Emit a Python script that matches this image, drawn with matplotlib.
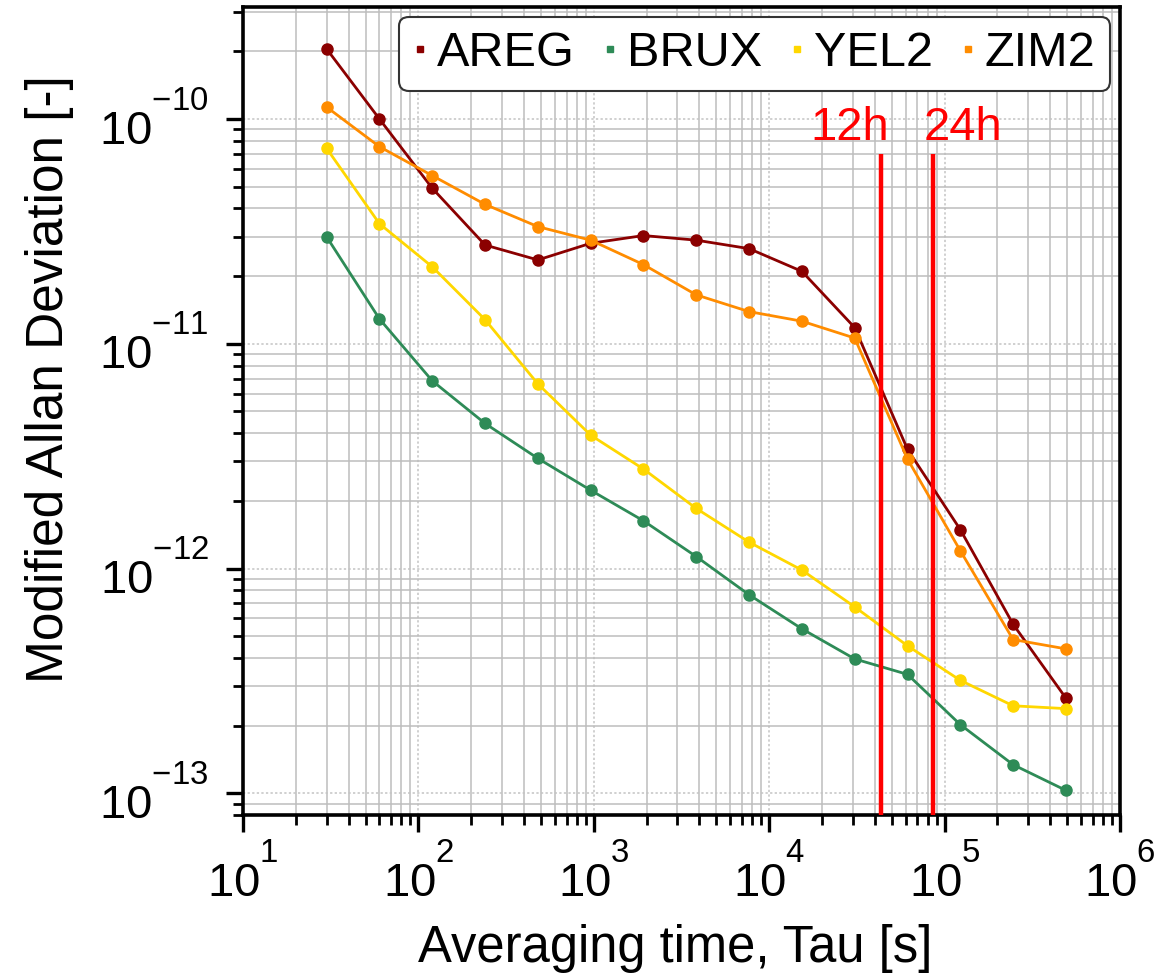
import matplotlib
matplotlib.use("Agg")
import matplotlib.pyplot as plt
from matplotlib.lines import Line2D
from matplotlib.ticker import LogLocator, NullFormatter

plt.rcParams['font.family'] = ['Liberation Sans', 'DejaVu Sans']
plt.rcParams['mathtext.default'] = 'regular'

# Raise exponents so they sit fully above the mantissa in the "10^n" labels
try:
    from matplotlib import _mathtext
    _mathtext.FontConstantsBase.sup1 = 1.38
except Exception:
    pass

# Averaging times [s]
tau = [30, 60, 120, 240, 480, 960, 1920, 3840, 7680, 15360,
       30720, 61440, 122880, 245760, 491520]

stations = ["AREG", "BRUX", "YEL2", "ZIM2"]
colors = ["#8B0000", "#2E8B57", "#FFD700", "#FF8C00"]

areg = [2.05e-10, 1.00e-10, 4.92e-11, 2.75e-11, 2.36e-11, 2.80e-11, 3.03e-11,
        2.89e-11, 2.65e-11, 2.10e-11, 1.18e-11, 3.39e-12, 1.49e-12, 5.65e-13,
        2.65e-13]
brux = [2.99e-11, 1.29e-11, 6.84e-12, 4.42e-12, 3.09e-12, 2.23e-12, 1.63e-12,
        1.13e-12, 7.64e-13, 5.39e-13, 3.96e-13, 3.38e-13, 2.02e-13, 1.34e-13,
        1.03e-13]
yel2 = [7.40e-11, 3.42e-11, 2.20e-11, 1.28e-11, 6.63e-12, 3.92e-12, 2.77e-12,
        1.85e-12, 1.31e-12, 9.84e-13, 6.75e-13, 4.53e-13, 3.18e-13, 2.45e-13,
        2.38e-13]
zim2 = [1.13e-10, 7.53e-11, 5.60e-11, 4.17e-11, 3.32e-11, 2.89e-11, 2.25e-11,
        1.65e-11, 1.39e-11, 1.26e-11, 1.06e-11, 3.07e-12, 1.20e-12, 4.83e-13,
        4.39e-13]
series = [areg, brux, yel2, zim2]

# Reference periods: 12 h and 24 h
period_tau = [43200, 86400]
period_labels = ["12h", "24h"]
period_label_x = [28900, 127000]

fig = plt.figure(figsize=(11.76, 9.74), dpi=100)
ax = fig.add_axes([0.2066, 0.1632, 0.7458, 0.8296])

for name, vals, c in zip(stations, series, colors):
    ax.plot(tau, vals, '-o', color=c, lw=2.0, ms=8, label=name)

ymin = 8e-14
for t in period_tau:
    ax.vlines(t, ymin, 7e-11, color='#ff0000', lw=3.2, zorder=5)
for xl, lab in zip(period_label_x, period_labels):
    ax.text(xl, 8.1e-11, lab, color='#ff0000', fontsize=34,
            ha='center', va='baseline', zorder=6)

ax.set_xscale('log')
ax.set_yscale('log')
ax.set_xlim(10, 1e6)
ax.set_ylim(ymin, 3.15e-10)

ax.xaxis.set_minor_locator(LogLocator(base=10, subs=range(2, 10), numticks=20))
ax.yaxis.set_minor_locator(LogLocator(base=10, subs=range(2, 10), numticks=20))
ax.xaxis.set_minor_formatter(NullFormatter())
ax.yaxis.set_minor_formatter(NullFormatter())
ax.xaxis.get_offset_text().set_visible(False)
ax.yaxis.get_offset_text().set_visible(False)

ax.grid(which='minor', color='#bdbdbd', lw=1.1, ls='-')
ax.grid(which='major', color='#c4c4c4', lw=1.1, ls=(0, (1.5, 1.5)))
ax.set_axisbelow(True)

for s in ax.spines.values():
    s.set_linewidth(2.6)
    s.set_color('black')

ax.tick_params(which='major', direction='out', length=12.5, width=2.4,
               labelsize=34, pad=9)
ax.tick_params(axis='y', which='major', pad=12)
ax.tick_params(which='minor', direction='out', length=7.5, width=2.0)

ax.set_xlabel("Averaging time, Tau [s]", fontsize=36.5)
ax.xaxis.set_label_coords(0.4926, -0.135)
ax.xaxis.label.set_va('top')
ax.set_ylabel("Modified Allan Deviation [-]", fontsize=37)
ax.yaxis.set_label_coords(-0.193, 0.54)

handles = [Line2D([], [], ls='none', marker='s', ms=5, color=c) for c in colors]
leg = ax.legend(handles, stations, loc='upper right', ncol=4, fontsize=35,
                handlelength=0.25, handletextpad=0.22, columnspacing=0.6,
                borderaxespad=0.2, borderpad=0.3, framealpha=1,
                edgecolor='#333333', fancybox=True)
leg.get_frame().set_linewidth(1.5)
leg.set_zorder(10)

fig.savefig("out.png", dpi=100)
